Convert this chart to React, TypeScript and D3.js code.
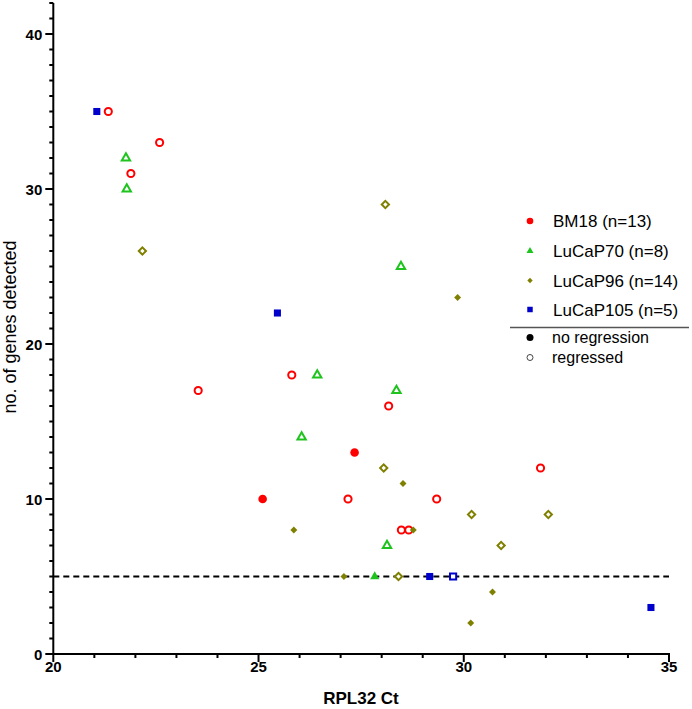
// Externals
import * as d3 from 'd3'
import React, { useRef, useEffect } from 'react'

// RPL32 Ct, no. of genes detected, regressed flag per group
const bm18Ct = [21.34, 22.59, 21.89, 25.81, 23.53, 28.17, 27.34, 25.1, 27.18, 29.34, 28.48, 28.66, 31.87]
const bm18Genes = [35, 33, 31, 18, 17, 16, 13, 10, 10, 10, 8, 8, 12]
const bm18Regressed = [true, true, true, true, true, true, false, false, true, true, true, true, true]

const lucap70Ct = [21.77, 21.79, 26.43, 28.47, 28.36, 26.05, 28.13, 27.83]
const lucap70Genes = [32, 30, 18, 25, 17, 14, 7, 5]
const lucap70Regressed = [true, true, true, true, true, true, true, false]

const lucap96Ct = [22.17, 28.09, 28.05, 30.19, 30.91, 28.41, 32.06, 29.85, 28.52, 25.86, 28.77, 27.08, 30.7, 30.17]
const lucap96Genes = [26, 29, 12, 9, 7, 5, 9, 23, 11, 8, 8, 5, 4, 2]
const lucap96Regressed = [true, true, true, true, true, true, true, false, false, false, false, false, false, false]

const lucap105Ct = [21.06, 25.46, 29.17, 29.74, 34.56]
const lucap105Genes = [35, 22, 5, 5, 3]
const lucap105Regressed = [false, false, false, true, false]

const groupNames = ['BM18 (n=13)', 'LuCaP70 (n=8)', 'LuCaP96 (n=14)', 'LuCaP105 (n=5)']
const statusNames = ['no regression', 'regressed']
const threshold = 5

const xTicks = [20, 25, 30, 35]
const yTicks = [0, 10, 20, 30, 40]

const App = () => {
  const d3Container = useRef<SVGSVGElement | null>(null)

  useEffect(() => {
    const svg = d3.select(d3Container.current)
    svg.selectAll('*').remove()

    const x = d3.scaleLinear().domain([20, 35]).range([53.3, 669])
    const y = d3.scaleLinear().domain([0, 42]).range([654, 3])
    const font = 'Arial, "Liberation Sans", sans-serif'

    const groups = [
      { ct: bm18Ct, genes: bm18Genes, reg: bm18Regressed, color: '#ff0000', shape: 'circle' },
      { ct: lucap70Ct, genes: lucap70Genes, reg: lucap70Regressed, color: '#1ec31e', shape: 'triangle' },
      { ct: lucap96Ct, genes: lucap96Genes, reg: lucap96Regressed, color: '#808000', shape: 'diamond' },
      { ct: lucap105Ct, genes: lucap105Genes, reg: lucap105Regressed, color: '#0000cc', shape: 'square' },
    ]

    // symbol path for a shape at a given scale
    const markerPath = (shape: string, open: boolean, k = 1) => {
      if (shape === 'circle') return d3.symbol().type(d3.symbolCircle).size((open ? 40 : 58) * k)()
      if (shape === 'triangle') return d3.symbol().type(d3.symbolTriangle).size((open ? 30 : 36) * k)()
      if (shape === 'diamond') return d3.symbol().type(d3.symbolSquare).size((open ? 26 : 24) * k)()
      return d3.symbol().type(d3.symbolSquare).size((open ? 38 : 50) * k)()
    }

    // Threshold line
    svg.append('line')
      .attr('x1', x(20)).attr('x2', x(35))
      .attr('y1', y(threshold)).attr('y2', y(threshold))
      .attr('stroke', '#000').attr('stroke-width', 2)
      .attr('stroke-dasharray', '6,4')

    // Axes
    const xAxis = svg.append('g').attr('transform', `translate(0,${y(0)})`)
    xAxis.append('line').attr('x1', x(20) - 1).attr('x2', x(35) + 1).attr('stroke', '#000').attr('stroke-width', 2)
    xAxis.selectAll('.xtick')
      .data(d3.range(20, 36))
      .enter().append('line')
      .attr('x1', d => x(d)).attr('x2', d => x(d))
      .attr('y1', 0).attr('y2', d => (d % 5 === 0 ? 8 : 4))
      .attr('stroke', '#000').attr('stroke-width', 2)
    xAxis.selectAll('.xlabel')
      .data(xTicks)
      .enter().append('text')
      .attr('x', d => x(d)).attr('y', 18)
      .attr('text-anchor', 'middle')
      .style('font', `bold 15px ${font}`)
      .text(d => d)

    const yAxis = svg.append('g').attr('transform', `translate(${x(20)},0)`)
    yAxis.append('line').attr('y1', y(0) + 1).attr('y2', y(42)).attr('stroke', '#000').attr('stroke-width', 2)
    yAxis.selectAll('.ytick')
      .data(d3.range(0, 43))
      .enter().append('line')
      .attr('y1', d => y(d)).attr('y2', d => y(d))
      .attr('x1', 0).attr('x2', d => (d % 10 === 0 ? -8 : -4))
      .attr('stroke', '#000').attr('stroke-width', 2)
    yAxis.selectAll('.ylabel')
      .data(yTicks)
      .enter().append('text')
      .attr('x', -11).attr('y', d => y(d) + 5.5)
      .attr('text-anchor', 'end')
      .style('font', `bold 15px ${font}`)
      .text(d => d)

    // Axis titles
    svg.append('text')
      .attr('x', 361).attr('y', 704)
      .attr('text-anchor', 'middle')
      .style('font', `bold 17px ${font}`)
      .text('RPL32 Ct')
    svg.append('text')
      .attr('transform', 'translate(16,327) rotate(-90)')
      .attr('text-anchor', 'middle')
      .style('font', `18px ${font}`)
      .text('no. of genes detected')

    // Points
    groups.forEach(g => {
      svg.append('g').selectAll('path')
        .data(d3.range(g.ct.length))
        .enter().append('path')
        .attr('transform', i => `translate(${x(g.ct[i])},${y(g.genes[i])})${g.shape === 'diamond' ? ' rotate(45)' : ''}`)
        .attr('d', i => markerPath(g.shape, g.reg[i]))
        .attr('fill', i => (g.reg[i] ? '#fff' : g.color))
        .attr('stroke', i => (g.reg[i] ? g.color : 'none'))
        .attr('stroke-width', 2)
    })

    // Legend
    const legend = svg.append('g')
    const legendY = [221, 251, 280.5, 309.5]
    groups.forEach((g, i) => {
      legend.append('path')
        .attr('transform', `translate(530,${legendY[i]})${g.shape === 'diamond' ? ' rotate(45)' : ''}`)
        .attr('d', markerPath(g.shape, false, 0.6))
        .attr('fill', g.color)
      legend.append('text')
        .attr('x', 553).attr('y', legendY[i] + 6)
        .style('font', `17px ${font}`)
        .text(groupNames[i])
    })
    legend.append('line')
      .attr('x1', 510).attr('x2', 689)
      .attr('y1', 327.5).attr('y2', 327.5)
      .attr('stroke', '#555').attr('stroke-width', 1.5)
    const statusY = [337.5, 357.5]
    statusNames.forEach((s, i) => {
      legend.append('circle')
        .attr('cx', 530).attr('cy', statusY[i])
        .attr('r', i === 0 ? 3.5 : 3)
        .attr('fill', i === 0 ? '#000' : '#fff')
        .attr('stroke', i === 0 ? 'none' : '#444')
        .attr('stroke-width', 1)
      legend.append('text')
        .attr('x', 552).attr('y', statusY[i] + 5)
        .style('font', `16px ${font}`)
        .text(s)
    })
  }, [])

  return (
    <svg ref={ d3Container } width={ 692 } height={ 709 }
      style={{ position: 'absolute', left: 0, top: 0, background: '#fff' }} />
  )
}

export default App
